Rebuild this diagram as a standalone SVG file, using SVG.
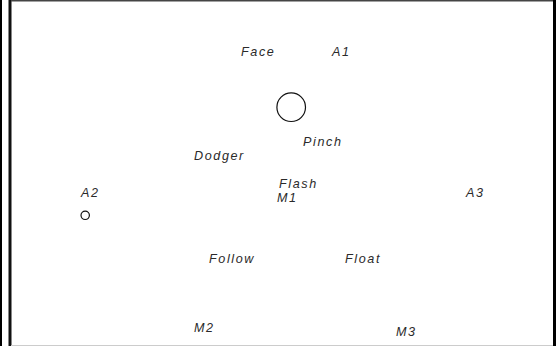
<svg xmlns="http://www.w3.org/2000/svg" width="560" height="346" viewBox="0 0 560 346">
  <style>
    .lbl { font-family: "Liberation Sans", Arial, sans-serif; font-size: 12.6px; font-style: italic; letter-spacing: 1.6px; fill: #2a2a2a; }
    .node { fill: none; stroke: #111; stroke-width: 1.2; }
  </style>
  <rect x="0" y="0" width="560" height="346" fill="#fff"/>
  <g id="frame" fill="none">
    <line x1="1" y1="0" x2="1" y2="346" stroke="#000" stroke-width="2"/>
    <line x1="10" y1="0" x2="10" y2="346" stroke="#111" stroke-width="3"/>
    <line x1="11" y1="0.7" x2="553" y2="0.7" stroke="#444" stroke-width="1.5"/>
    <line x1="554.5" y1="0" x2="554.5" y2="346" stroke="#000" stroke-width="3"/>
    <line x1="11" y1="345.5" x2="553" y2="345.5" stroke="#ccc" stroke-width="1"/>
  </g>
  <g id="connectors"></g>
  <g id="node-big"><circle class="node" cx="291.2" cy="107.2" r="14.3"/></g>
  <g id="node-small"><circle class="node" cx="85.2" cy="215.3" r="4.2"/></g>
  <g id="label-face"><text class="lbl" x="241" y="56">Face</text></g>
  <g id="label-a1"><text class="lbl" x="332" y="56">A1</text></g>
  <g id="label-pinch"><text class="lbl" x="303" y="146">Pinch</text></g>
  <g id="label-dodger"><text class="lbl" x="194" y="160">Dodger</text></g>
  <g id="label-flash"><text class="lbl" x="279" y="188">Flash</text></g>
  <g id="label-m1"><text class="lbl" x="277" y="202">M1</text></g>
  <g id="label-a2"><text class="lbl" x="81" y="197">A2</text></g>
  <g id="label-a3"><text class="lbl" x="466" y="197">A3</text></g>
  <g id="label-follow"><text class="lbl" x="209" y="263">Follow</text></g>
  <g id="label-float"><text class="lbl" x="345" y="263">Float</text></g>
  <g id="label-m2"><text class="lbl" x="194" y="332">M2</text></g>
  <g id="label-m3"><text class="lbl" x="396" y="336">M3</text></g>
</svg>
